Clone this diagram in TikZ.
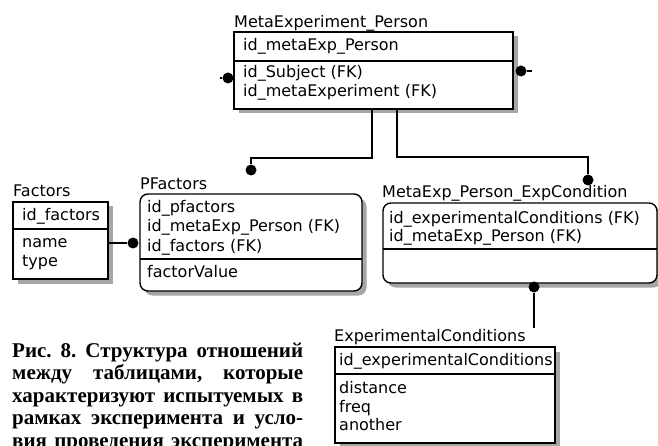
\documentclass[tikz,border=0pt]{standalone}
\usepackage{fontspec}
\setmainfont{DejaVu Sans}
\newfontfamily\capfont{Liberation Serif}
\usetikzlibrary{shadows}
\begin{document}
\begin{tikzpicture}[x=1pt,y=-1pt,
  tbl/.style={draw=black, line width=1.4pt, fill=white, inner sep=0pt, outer sep=0pt,
     drop shadow={shadow xshift=4.5pt, shadow yshift=-4.5pt, fill=gray!70, opacity=1}},
  rtbl/.style={tbl, rounded corners=8pt},
  divider/.style={line width=1.2pt},
  lbl/.style={anchor=base west, inner sep=0pt, font=\fontsize{16}{19}\selectfont},
  conn/.style={line width=1.4pt},
  dotm/.style={circle, fill=black, inner sep=0pt, minimum size=11pt},
  capline/.style={anchor=base west, inner sep=0pt, font=\capfont\bfseries\fontsize{21}{22}\selectfont\frenchspacing}
]
\useasboundingbox (0,0) rectangle (658,446);
\clip (0,0) rectangle (658,446);
\fill[white] (0,0) rectangle (658,446);

% MetaExperiment_Person
\node[tbl, minimum width=279pt, minimum height=77pt] (mep) at (373.5,70.5) {};
\draw[divider] (mep.west |- 0,61) -- (mep.east |- 0,61);
\node[lbl] (mepT) at (234,27.5) {MetaExperiment\_Person};
\node[lbl] (mepK) at (243,50.5) {id\_metaExp\_Person};
\node[lbl] (mepA) at (243,77.5) {id\_Subject (FK)};
\node[lbl] (mepB) at (243,96.5) {id\_metaExperiment (FK)};

% Factors
\node[tbl, minimum width=95pt, minimum height=77pt] (fac) at (60.5,240.5) {};
\draw[divider] (fac.west |- 0,229) -- (fac.east |- 0,229);
\node[lbl] (facT) at (13,196.5) {Factors};
\node[lbl] (facK) at (22,220.5) {id\_factors};
\node[lbl] (facA) at (22,247.5) {name};
\node[lbl] (facB) at (22,266) {type};

% PFactors
\node[rtbl, minimum width=222pt, minimum height=97pt] (pf) at (251,242.5) {};
\draw[divider] (pf.west |- 0,259) -- (pf.east |- 0,259);
\node[lbl] (pfT) at (140,189.5) {PFactors};
\node[lbl] (pfA) at (147,212.5) {id\_pfactors};
\node[lbl] (pfB) at (147,232) {id\_metaExp\_Person (FK)};
\node[lbl] (pfC) at (147,251.5) {id\_factors (FK)};
\node[lbl] (pfD) at (147,277.5) {factorValue};

% MetaExp_Person_ExpCondition
\node[rtbl, minimum width=274pt, minimum height=80pt] (mc) at (520,243) {};
\draw[divider] (mc.west |- 0,249) -- (mc.east |- 0,249);
\node[lbl] (mcT) at (382,197.5) {MetaExp\_Person\_ExpCondition};
\node[lbl] (mcA) at (389,223.5) {id\_experimentalConditions (FK)};
\node[lbl] (mcB) at (389,241.5) {id\_metaExp\_Person (FK)};

% ExperimentalConditions
\node[tbl, minimum width=220pt, minimum height=96pt] (ec) at (445,395) {};
\draw[divider] (ec.west |- 0,374) -- (ec.east |- 0,374);
\node[lbl] (ecT) at (334,341.5) {ExperimentalConditions};
\node[lbl] (ecK) at (339,365.5) {id\_experimentalConditions};
\node[lbl] (ecA) at (339,393.5) {distance};
\node[lbl] (ecB) at (339,412.5) {freq};
\node[lbl] (ecC) at (339,430.5) {another};

% relationship dots and connectors
\node[dotm] (dl) at (228,78) {};
\coordinate (dlend) at (220,78);
\draw[conn] (dl) -- (dlend);
\node[dotm] (dr) at (521,71) {};
\coordinate (drend) at (532,71);
\draw[conn] (dr) -- (drend);

\node[dotm] (d1) at (251,170) {};
\coordinate (b1) at (372,158);
\draw[conn] (mep.south -| b1) -- (b1) -- (b1 -| d1) -- (d1);

\node[dotm] (d2) at (588,180) {};
\coordinate (b2) at (397,157);
\draw[conn] (mep.south -| b2) -- (b2) -| (d2);

\node[dotm] (d3) at (133,243) {};
\draw[conn] (fac.east |- d3) -- (d3);

\node[dotm] (d4) at (534,287) {};
\coordinate (e4) at (534,328);
\draw[conn] (d4) -- (e4);

% caption
\node[capline] (cap1) at (12,357) {\makebox[291pt][s]{Рис. 8. Структура отношений}};
\node[capline] (cap2) at (12,379.5) {\makebox[291pt][s]{между таблицами, которые}};
\node[capline] (cap3) at (12,402) {\makebox[291pt][s]{характеризуют испытуемых в}};
\node[capline] (cap4) at (12,424.5) {\makebox[291pt][s]{рамках эксперимента и усло-}};
\node[capline] (cap5) at (12,447) {\makebox[291pt][s]{вия проведения эксперимента}};
\end{tikzpicture}
\end{document}
